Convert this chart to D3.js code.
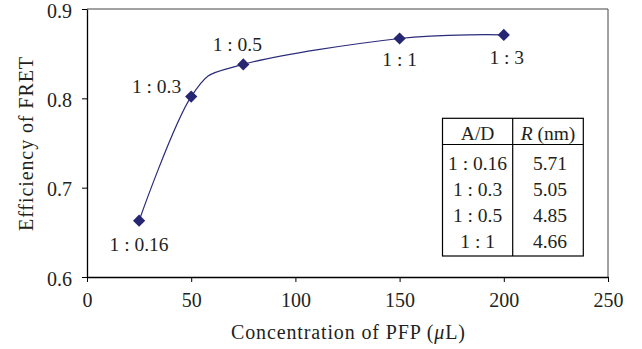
<!DOCTYPE html>
<html lang="en">
<head>
  <meta charset="utf-8">
  <title>Efficiency of FRET</title>
  <script src="https://cdn.jsdelivr.net/npm/d3@7"></script>
  <style>
    body { margin: 0; background: #fff; }
    svg text { font-family: 'Liberation Serif', 'Times New Roman', serif; fill: #231f20; }
    .axis path, .axis line { stroke: #000; }
    .axis text { font-size: 20px; }
  </style>
</head>
<body>
  <svg id="chart" width="642" height="349"></svg>

  <script>
    // data
    const conc = [25, 50, 75, 150, 200];
    const eff = [0.663, 0.802, 0.838, 0.867, 0.871];
    const ratioLabels = ["1 : 0.16", "1 : 0.3", "1 : 0.5", "1 : 1", "1 : 3"];
    const xTicks = [0, 50, 100, 150, 200, 250];
    const yTicks = [0.6, 0.7, 0.8, 0.9];
    const tableRatios = ["1 : 0.16", "1 : 0.3", "1 : 0.5", "1 : 1"];
    const tableR = ["5.71", "5.05", "4.85", "4.66"];

    const width = 642, height = 349;
    const margin = {top: 9, right: 34, bottom: 72, left: 87};
    const iw = width - margin.left - margin.right;
    const ih = height - margin.top - margin.bottom;
    const fs = 19.5;

    const svg = d3.select("#chart");
    const g = svg.append("g").attr("transform", `translate(${margin.left},${margin.top})`);

    const x = d3.scaleLinear().domain([0, 250]).range([0, iw]);
    const y = d3.scaleLinear().domain([0.6, 0.9]).range([ih, 0]);

    // top and right frame
    g.append("path")
      .attr("d", `M0,0H${iw}V${ih}`)
      .attr("fill", "none")
      .attr("stroke", "#444")
      .attr("stroke-width", 1);

    // axes
    g.append("g").attr("class", "axis")
      .attr("transform", `translate(0,${ih})`)
      .call(d3.axisBottom(x).tickValues(xTicks).tickSize(5).tickPadding(10.5).tickSizeOuter(0));
    g.append("g").attr("class", "axis")
      .call(d3.axisLeft(y).tickValues(yTicks).tickSize(5).tickPadding(10)
        .tickFormat(d3.format(".1f")).tickSizeOuter(0))
      .selectAll("text").attr("dy", "0.4em");
    g.selectAll(".axis path").attr("stroke-width", 1.3);

    // axis titles
    svg.append("text")
      .attr("x", 348).attr("y", 339)
      .attr("text-anchor", "middle").attr("font-size", 20)
      .attr("textLength", 234).attr("lengthAdjust", "spacing")
      .html("Concentration of PFP (<tspan font-style='italic'>μ</tspan>L)");
    svg.append("text")
      .attr("transform", "translate(33,144) rotate(-90)")
      .attr("text-anchor", "middle").attr("font-size", 20)
      .attr("textLength", 174).attr("lengthAdjust", "spacing")
      .text("Efficiency of FRET");

    // smoothed line
    const pts = conc.map((c, i) => [c, eff[i]]);
    const line = d3.line()
      .x(d => x(d[0])).y(d => y(d[1]))
      .curve(d3.curveCardinal.tension(0));
    g.append("path")
      .datum(pts)
      .attr("d", line)
      .attr("fill", "none")
      .attr("stroke", "#2b2b7a")
      .attr("stroke-width", 1.2);

    // diamond markers
    g.selectAll(".pt").data(pts).enter().append("path")
      .attr("class", "pt")
      .attr("transform", d => `translate(${x(d[0])},${y(d[1])})`)
      .attr("d", d3.symbol(d3.symbolDiamond2, 95))
      .attr("fill", "#262673");

    // point labels: offset and anchor per point
    const labelPos = [
      {dx: 0, dy: 30, a: "middle"},
      {dx: -10, dy: -4, a: "end"},
      {dx: -6, dy: -13, a: "middle"},
      {dx: 0, dy: 28, a: "middle"},
      {dx: 3, dy: 29, a: "middle"}
    ];
    g.selectAll(".plabel").data(pts).enter().append("text")
      .attr("class", "plabel")
      .attr("x", (d, i) => x(d[0]) + labelPos[i].dx)
      .attr("y", (d, i) => y(d[1]) + labelPos[i].dy)
      .attr("text-anchor", (d, i) => labelPos[i].a)
      .attr("font-size", fs)
      .text((d, i) => ratioLabels[i]);

    // inset table
    const tx = 442.5, tMid = 512.7, tRight = 583.3, tTop = 118.3, tHead = 144.5, tBottom = 256;
    const tg = svg.append("g");
    tg.append("rect")
      .attr("x", tx).attr("y", tTop)
      .attr("width", tRight - tx).attr("height", tBottom - tTop)
      .attr("fill", "#fff").attr("stroke", "#000").attr("stroke-width", 1.2);
    tg.append("line").attr("x1", tx).attr("x2", tRight).attr("y1", tHead).attr("y2", tHead)
      .attr("stroke", "#000").attr("stroke-width", 1.2);
    tg.append("line").attr("x1", tMid).attr("x2", tMid).attr("y1", tTop).attr("y2", tBottom)
      .attr("stroke", "#000").attr("stroke-width", 1.2);

    const c1 = (tx + tMid) / 2, c2 = (tMid + tRight) / 2;
    tg.append("text").attr("x", c1).attr("y", 139.5).attr("text-anchor", "middle")
      .attr("font-size", fs).text("A/D");
    tg.append("text").attr("x", c2).attr("y", 139.5).attr("text-anchor", "middle")
      .attr("font-size", fs)
      .html("<tspan font-style='italic'>R</tspan> (nm)");

    const rowY = d3.scalePoint().domain(d3.range(tableRatios.length)).range([170, 247.5]);
    tg.selectAll(".tr1").data(tableRatios).enter().append("text")
      .attr("x", c1).attr("y", (d, i) => rowY(i))
      .attr("text-anchor", "middle").attr("font-size", fs).text(d => d);
    tg.selectAll(".tr2").data(tableR).enter().append("text")
      .attr("x", c2 + 2).attr("y", (d, i) => rowY(i))
      .attr("text-anchor", "middle").attr("font-size", fs).text(d => d);
  </script>
</body>
</html>
